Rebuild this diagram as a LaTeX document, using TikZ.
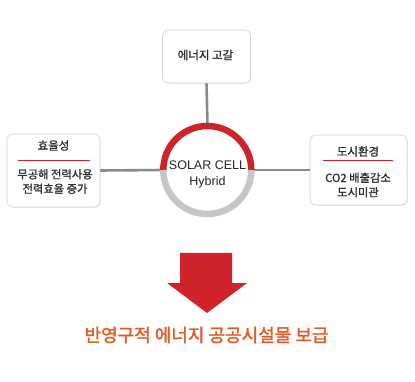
\documentclass[tikz,border=0pt]{standalone}
\usepackage{fontspec}
\setmainfont{Liberation Sans}
\newfontfamily\kr{Noto Sans CJK KR}[FakeBold=1.2]
\newfontfamily\krb{Noto Sans CJK KR}[FakeBold=1.6]
\usetikzlibrary{shadows}
\definecolor{cred}{HTML}{D0222B}
\definecolor{cgray}{HTML}{C6C6C6}
\definecolor{cline}{HTML}{8A8A8A}
\definecolor{corange}{HTML}{E25A24}
\definecolor{ctext}{HTML}{2E2E2E}
\begin{document}
\begin{tikzpicture}[x=1pt,y=-1pt,
  card/.style={draw=black!18, line width=0.6pt, rounded corners=6pt, fill=white,
    drop shadow={shadow xshift=0.8pt, shadow yshift=-0.8pt, opacity=0.12}},
  conn/.style={draw=cline, line width=2.6pt},
  ttl/.style={font=\kr\fontsize{11.5}{13}\selectfont, text=ctext},
  body/.style={font=\kr\fontsize{11.3}{14.5}\selectfont, text=ctext, align=center}]
\useasboundingbox (0,0) rectangle (415,382);
% boxes
\node[card, minimum width=88pt, minimum height=53pt] (top) at (206.5,56.5) {};
\node[ttl] (toptxt) at (205.5,55) {에너지 고갈};
\node[card, minimum width=93pt, minimum height=73pt] (left) at (53.5,170.5) {};
\node[ttl] (lt) at (53.5,145.5) {효율성};
\coordinate (lr1) at (18,160);
\coordinate (lr2) at (90,160);
\draw[cred, line width=0.6pt] (lr1) -- (lr2);
\node[body] (lb) at (55,181.5) {무공해 전력사용\\전력효율 증가};
\node[card, minimum width=97pt, minimum height=70pt] (right) at (358.5,170) {};
\node[ttl] (rt) at (358,151.5) {도시환경};
\coordinate (rr1) at (323,160);
\coordinate (rr2) at (393,160);
\draw[cred, line width=0.6pt] (rr1) -- (rr2);
\node[body] (rb) at (358,185) {CO2 배출감소\\도시미관};
% circle
\coordinate (c) at (207.5,170);
\node[circle, minimum size=88pt, inner sep=0pt] (circ) at (c) {};
\draw[conn] (top.south) -- (circ.north);
\draw[conn] (left.east) -- (circ.west);
\draw[conn] (circ.east) -- (right.west);
\fill[white] (c) circle (44);
\draw[cred, line width=6.5pt] (circ.west) arc[start angle=180, end angle=0, radius=44pt];
\draw[cgray, line width=6.5pt] (circ.west) arc[start angle=-180, end angle=0, radius=44pt];
\node[font=\fontsize{12.5}{16}\selectfont, text=black!85, align=center] (sc) at (207.5,174) {SOLAR CELL\\Hybrid};
% arrow
\fill[cred] (180,253) -- (232,253) -- (232,283) -- (247,283) -- (207,313) -- (167,283) -- (180,283) -- cycle;
\node[font=\krb\fontsize{18}{22}\selectfont, text=corange] (bot) at (206.5,335) {반영구적 에너지 공공시설물 보급};
\end{tikzpicture}
\end{document}
